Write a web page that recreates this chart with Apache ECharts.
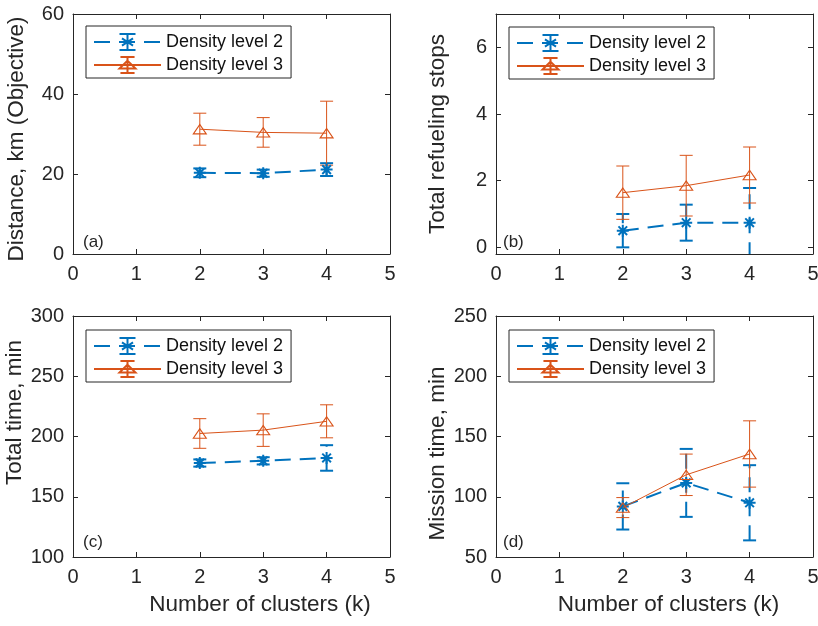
<!DOCTYPE html>
<html>
<head>
<meta charset="utf-8">
<script src="https://cdn.jsdelivr.net/npm/echarts@6/dist/echarts.min.js"></script>
<style>
html,body{margin:0;padding:0;background:#fff;}
#chart{width:818px;height:626px;}
</style>
</head>
<body>
<div id="chart"></div>
<script>
// ---- data ----
const clusters = [2, 3, 4];
const xTicks = [0, 1, 2, 3, 4, 5];
const seriesNames = ['Density level 2', 'Density level 3'];
const panelLabels = ['(a)', '(b)', '(c)', '(d)'];
const yNames = ['Distance, km (Objective)', 'Total refueling stops', 'Total time, min', 'Mission time, min'];
const xName = 'Number of clusters (k)';

// (a) distance
const distD2 = [20.3, 20.2, 21.1];
const distD2Err = [1.1, 0.9, 1.6];
const distD3 = [31.2, 30.4, 30.2];
const distD3Err = [4.0, 3.7, 8.0];
// (b) refueling stops
const stopsD2 = [0.5, 0.74, 0.74];
const stopsD2Err = [0.5, 0.54, 1.04];
const stopsD3 = [1.64, 1.85, 2.17];
const stopsD3Err = [0.8, 0.91, 0.84];
// (c) total time
const totalD2 = [178.0, 179.8, 182.2];
const totalD2Err = [3.0, 3.0, 10.6];
const totalD3 = [202.5, 205.3, 212.6];
const totalD3Err = [12.3, 13.5, 13.7];
// (d) mission time
const missionD2 = [92.0, 111.5, 95.0];
const missionD2Err = [19.2, 28.2, 31.2];
const missionD3 = [91.0, 118.2, 135.5];
const missionD3Err = [8.3, 17.2, 27.5];

// y-axis ranges and tick labels
const yMin = [0, -0.2, 100, 50];
const yMax = [60, 7, 300, 250];
const yTicks = [[0, 20, 40, 60], [0, 2, 4, 6], [100, 150, 200, 250, 300], [50, 100, 150, 200, 250]];

// ---- style ----
const BLUE = '#0072BD';
const ORANGE = '#D95319';
const AX = '#262626';
const FONT = '"Liberation Sans", Arial, Helvetica, sans-serif';
const AST = 'path://M0,-1L0,1M-1,0L1,0M-0.72,-0.72L0.72,0.72M-0.72,0.72L0.72,-0.72';
const AST_LEG = 'path://M0,-1L0,1M-0.65,-1L0.65,-1M-0.65,1L0.65,1M-0.6,0L0.6,0M-0.45,-0.45L0.45,0.45M-0.45,0.45L0.45,-0.45';
const TRI = 'path://M0,-0.9L1,0.8L-1,0.8Z';
const TRI_LEG = 'path://M0,-0.55L0.68,0.45L-0.68,0.45ZM0,-1L0,1M-0.6,-1L0.6,-1M-0.6,1L0.6,1';

const grids = [
  {left: 73, top: 14, width: 317, height: 240},
  {left: 496, top: 14, width: 317, height: 240},
  {left: 73, top: 316, width: 317, height: 241},
  {left: 496, top: 316, width: 317, height: 241}
];
const legendPos = [[86, 26], [509, 27], [86, 330], [509, 330]];
const labelPos = [[83, 234], [503, 234], [83, 534], [503, 534]];
const yNameGap = [45, 47, 45, 47];
const yNamePad = [[0, 10, 0, 0], [0, 0, 0, 0], [0, 0, 0, 48], [0, 34, 0, 0]];
const xNamePad = [[0, 0, 0, 57], [0, 0, 0, 28]];

const panels = [
  [distD2, distD2Err, distD3, distD3Err],
  [stopsD2, stopsD2Err, stopsD3, stopsD3Err],
  [totalD2, totalD2Err, totalD3, totalD3Err],
  [missionD2, missionD2Err, missionD3, missionD3Err]
];

const xAxes = [], yAxes = [], series = [], legends = [], titles = [];

function tickCommon() {
  return {
    axisLine: {show: true, onZero: false, lineStyle: {color: AX, width: 1}},
    axisTick: {show: true, inside: true, length: 5, lineStyle: {color: AX, width: 1}},
    splitLine: {show: false}
  };
}

function errSeries(g, xs, ys, es, color, width, dash) {
  return {
    type: 'custom', xAxisIndex: 2 * g, yAxisIndex: 2 * g, clip: true, silent: true, z: 2,
    data: xs.map((x, i) => [x, ys[i] - es[i], ys[i] + es[i]]),
    renderItem: function (params, api) {
      const x = api.value(0);
      const lo = api.coord([x, api.value(1)]);
      const hi = api.coord([x, api.value(2)]);
      const hw = 6.5;
      const cs = params.coordSys;
      return {
        type: 'group',
        clipPath: {type: 'rect', shape: {x: cs.x, y: cs.y, width: cs.width, height: cs.height}},
        children: [
          {type: 'line', shape: {x1: lo[0], y1: lo[1], x2: hi[0], y2: hi[1]}, style: {stroke: color, lineWidth: width, lineDash: dash}},
          {type: 'line', shape: {x1: lo[0] - hw, y1: lo[1], x2: lo[0] + hw, y2: lo[1]}, style: {stroke: color, lineWidth: width}},
          {type: 'line', shape: {x1: hi[0] - hw, y1: hi[1], x2: hi[0] + hw, y2: hi[1]}, style: {stroke: color, lineWidth: width}}
        ]
      };
    }
  };
}

for (let g = 0; g < 4; g++) {
  const bottomRow = g >= 2;
  const xa = Object.assign(tickCommon(), {
    type: 'value', gridIndex: g, position: 'bottom', min: xTicks[0], max: xTicks[xTicks.length - 1], interval: 1,
    axisLabel: {show: true, color: AX, fontSize: 20, fontFamily: FONT, margin: 10}
  });
  if (bottomRow) {
    xa.name = xName;
    xa.nameLocation = 'middle';
    xa.nameGap = 36;
    xa.nameTextStyle = {color: AX, fontSize: 22.5, fontFamily: FONT, padding: xNamePad[g - 2]};
  }
  const xt = Object.assign(tickCommon(), {
    type: 'value', gridIndex: g, position: 'top', min: xTicks[0], max: xTicks[xTicks.length - 1], interval: 1,
    axisLabel: {show: false}
  });
  xAxes.push(xa, xt);

  const ya = Object.assign(tickCommon(), {
    type: 'value', gridIndex: g, position: 'left', min: yMin[g], max: yMax[g],
    axisLabel: {show: true, color: AX, fontSize: 20, fontFamily: FONT, margin: 9, customValues: yTicks[g]},
    name: yNames[g], nameLocation: 'middle', nameGap: yNameGap[g],
    nameTextStyle: {color: AX, fontSize: 22.5, fontFamily: FONT, padding: yNamePad[g]}
  });
  ya.axisTick.customValues = yTicks[g];
  const yr = Object.assign(tickCommon(), {
    type: 'value', gridIndex: g, position: 'right', min: yMin[g], max: yMax[g],
    axisLabel: {show: false, customValues: yTicks[g]}
  });
  yr.axisTick.customValues = yTicks[g];
  yAxes.push(ya, yr);

  const [d2, e2, d3, e3] = panels[g];
  series.push(errSeries(g, clusters, d2, e2, BLUE, 2, [15, 9]));
  series.push({
    type: 'line', name: seriesNames[0], xAxisIndex: 2 * g, yAxisIndex: 2 * g, z: 3,
    symbol: AST_LEG, symbolKeepAspect: true, symbolSize: 12, color: BLUE,
    itemStyle: {color: 'rgba(0,0,0,0)', borderColor: BLUE, borderWidth: 2},
    lineStyle: {color: BLUE, width: 2, type: [16, 9]},
    silent: true, animation: false,
    data: clusters.map((x, i) => ({value: [x, d2[i]], symbol: AST}))
  });
  series.push(errSeries(g, clusters, d3, e3, ORANGE, 1, null));
  series.push({
    type: 'line', name: seriesNames[1], xAxisIndex: 2 * g, yAxisIndex: 2 * g, z: 4,
    symbol: TRI_LEG, symbolKeepAspect: true, symbolSize: [13, 11], color: ORANGE,
    itemStyle: {color: 'rgba(0,0,0,0)', borderColor: ORANGE, borderWidth: 1.1},
    lineStyle: {color: ORANGE, width: 1, type: 'solid'},
    silent: true, animation: false,
    data: clusters.map((x, i) => ({value: [x, d3[i]], symbol: TRI}))
  });

  legends.push({
    orient: 'vertical', left: legendPos[g][0], top: legendPos[g][1],
    padding: [7, 8, 4, 7], itemWidth: 67, itemHeight: 20, itemGap: 5,
    backgroundColor: '#fff', borderColor: AX, borderWidth: 1, borderRadius: 0,
    selectedMode: false,
    textStyle: {color: '#111', fontSize: 18, fontFamily: FONT},
    data: seriesNames.slice()
  });
  titles.push({
    text: panelLabels[g], left: labelPos[g][0], top: labelPos[g][1], padding: 0,
    textStyle: {color: AX, fontSize: 17, fontWeight: 'normal', fontFamily: FONT}
  });
}

const chart = echarts.init(document.getElementById('chart'), null, {renderer: 'canvas'});
chart.setOption({
  animation: false,
  backgroundColor: '#fff',
  title: titles,
  legend: legends,
  grid: grids.map(gr => Object.assign({containLabel: false, outerBoundsMode: 'none'}, gr)),
  xAxis: xAxes,
  yAxis: yAxes,
  series: series
});
</script>
</body>
</html>
